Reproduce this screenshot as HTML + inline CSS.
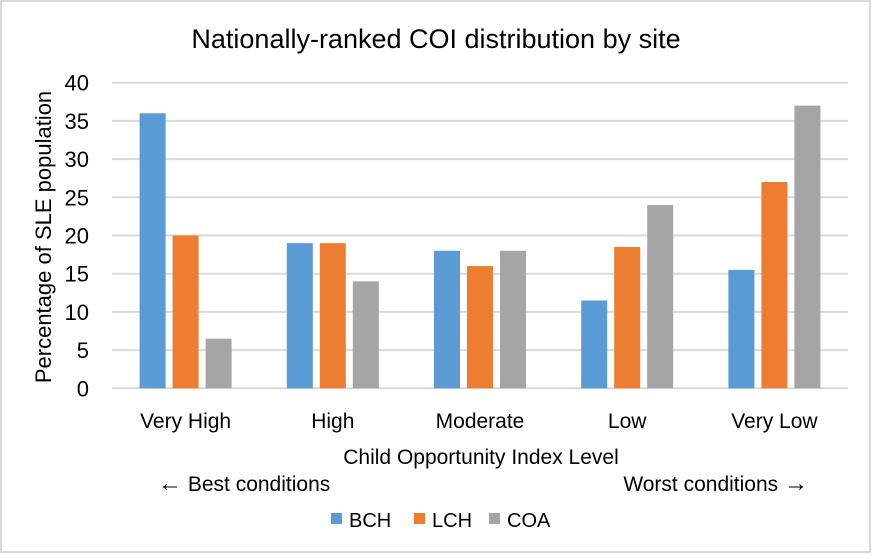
<!DOCTYPE html>
<html><head><meta charset="utf-8"><style>
body{margin:0;background:#fff}
svg text{font-family:"Liberation Sans",Calibri,sans-serif;fill:#000}
</style></head><body>
<svg width="872" height="554">
<rect x="1" y="1" width="869" height="551" fill="#fff" stroke="#d9d9d9" stroke-width="2"/>
<text x="436" y="48" text-anchor="middle" font-size="27">Nationally-ranked COI distribution by site</text>
<g id="grid"></g>
<g id="yt"></g>
<g id="bars"></g>
<g id="xt"></g>
<text transform="translate(51,237) rotate(-90)" text-anchor="middle" font-size="22">Percentage of SLE population</text>
<text x="481" y="464" text-anchor="middle" font-size="21">Child Opportunity Index Level</text>
<text x="158" y="491" font-size="21"><tspan font-size="24">←</tspan> Best conditions</text>
<text x="808" y="491" text-anchor="end" font-size="21">Worst conditions <tspan font-size="24">→</tspan></text>
<g id="legend"></g>
</svg>
<script>
const categories=["Very High","High","Moderate","Low","Very Low"];
const seriesNames=["BCH","LCH","COA"];
const bch=[36,19,18,11.5,15.5];
const lch=[20,19,16,18.5,27];
const coa=[6.5,14,18,24,37];
const yTicks=[0,5,10,15,20,25,30,35,40];
const colors=["#5b9bd5","#ed7d31","#a5a5a5"];
const NS="http://www.w3.org/2000/svg";
const x0=112,x1=848,y0=388.3,y1=82.7,ymax=40;
const yS=v=>y0-(v/ymax)*(y0-y1);
const cw=(x1-x0)/categories.length;
function mk(t,a,p){const e=document.createElementNS(NS,t);for(const k in a)e.setAttribute(k,a[k]);p.appendChild(e);return e;}
const grid=document.getElementById('grid'),yt=document.getElementById('yt');
yTicks.forEach(v=>{
 const l=mk('line',{x1:x0,x2:x1,y1:yS(v),y2:yS(v),stroke:'#d9d9d9','stroke-width':2},grid);
 
 
 const t=mk('text',{x:89,y:yS(v)+8,'text-anchor':'end','font-size':22},yt);t.textContent=v;
 
 
});
const bars=document.getElementById('bars'),xt=document.getElementById('xt');
const series=[bch,lch,coa];const bw=26,gap=7;
categories.forEach((c,i)=>{
 const cx=x0+cw*(i+0.5);
 series.forEach((s,j)=>{
  const bx=cx-(3*bw+2*gap)/2+j*(bw+gap);
  const r=mk('rect',{x:bx,y:yS(s[i]),width:bw,height:y0-yS(s[i]),fill:colors[j]},bars);
  
  
 });
 const t=mk('text',{x:cx,y:428,'text-anchor':'middle','font-size':21},xt);t.textContent=c;
 
 
});
const lg=document.getElementById('legend');const lx=[331,414,489];
seriesNames.forEach((n,j)=>{
 const g=mk('g',{},lg);
 
 
 mk('rect',{x:lx[j],y:513,width:11,height:11,fill:colors[j]},g);
 const t=mk('text',{x:lx[j]+18,y:527,'font-size':20},g);t.textContent=n;
});
</script>
</body></html>
